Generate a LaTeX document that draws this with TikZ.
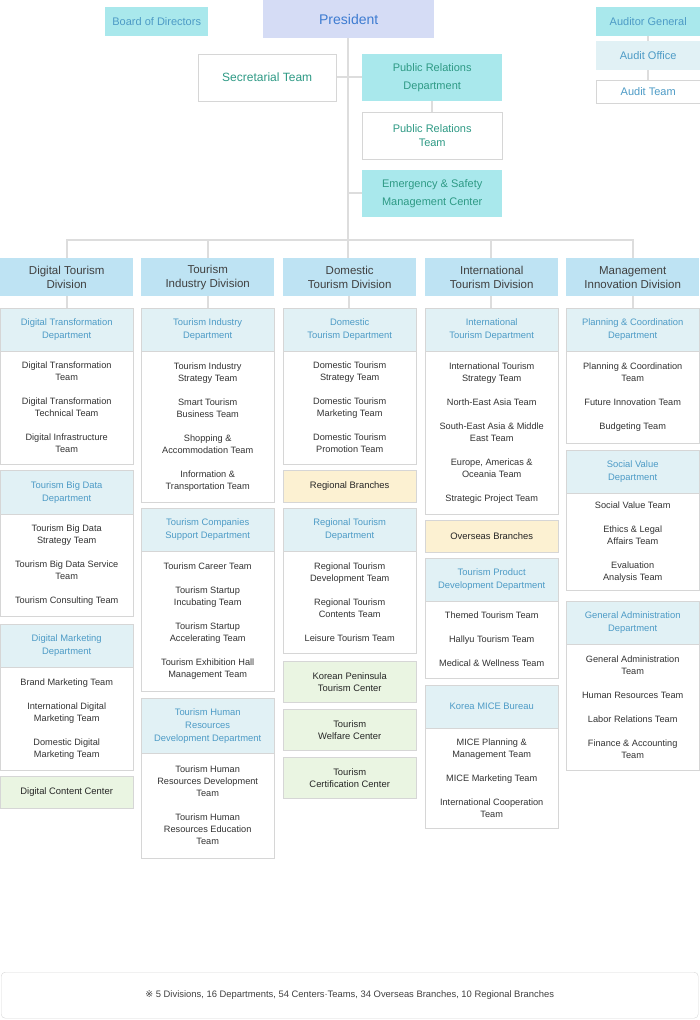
\documentclass[tikz,border=0pt]{standalone}
\usepackage{fontspec}
\setmainfont{Liberation Sans}
\newfontfamily\symfont{DejaVu Sans}
\usetikzlibrary{positioning}
\definecolor{linegray}{HTML}{DDDDDD}
\definecolor{boxgray}{HTML}{D6D6D6}
\definecolor{headfill}{HTML}{E1F1F5}
\definecolor{headtext}{HTML}{4D9BC6}
\definecolor{divfill}{HTML}{BEE3F3}
\definecolor{cyanfill}{HTML}{A9E8EC}
\definecolor{presfill}{HTML}{D5DCF5}
\definecolor{greenfill}{HTML}{EAF5E2}
\definecolor{yellowfill}{HTML}{FCF1D2}
\definecolor{tealtext}{HTML}{2E9A85}
\newcommand\deptbox[7]{%
  \node[head, minimum height={(#4-#3)*1pt}] (#1h) at (#2,-#3) {#6};
  \node[body, minimum height={(#5-#4)*1pt}] (#1b) at (#2,-#4) {#7};}
\begin{document}
\begin{tikzpicture}[x=1pt, y=1pt,
    base/.style={rectangle, anchor=north west, inner sep=0pt, align=center, text centered},
    head/.style={base, draw=boxgray, fill=headfill, minimum width=133pt, text=headtext, font=\fontsize{9.4}{13}\selectfont},
    body/.style={base, draw=boxgray, fill=white, minimum width=133pt, text=black!80, font=\fontsize{9.2}{12}\selectfont},
    division/.style={base, fill=divfill, minimum width=133pt, minimum height=38pt, text=black!75, font=\fontsize{11.5}{14}\selectfont},
    unit/.style={base, draw=boxgray, minimum width=133pt, minimum height=32pt, text=black!85, font=\fontsize{9.4}{12}\selectfont},
    staff/.style={base, minimum width=140pt, minimum height=47pt, text=tealtext, font=\fontsize{12}{18}\selectfont},
    link/.style={draw=linegray, line width=2pt}
]
\useasboundingbox (0,0) rectangle (700,-1020);
% connectors
\coordinate (bus) at (348,-240);
\draw[link] (348,-38) -- (bus);
\draw[link] (67,-258) |- (bus) -| (633,-258);
\foreach \cx in {208,348,491} \draw[link] (\cx,-240) -- (\cx,-258);
\foreach \cx in {67,208,349,491,633} \draw[link] (\cx,-296) -- (\cx,-308);
\draw[link] (336,-77) -- (362,-77);
\draw[link] (348,-193) -- (362,-193);
\draw[link] (432,-101) -- (432,-112);
\draw[link] (648,-36) -- (648,-80);
% top
\node[base, fill=presfill, minimum width=171pt, minimum height=38pt, text=headtext!80!blue, font=\fontsize{14}{16}\selectfont] (president) at (263,0) {President};
\node[base, fill=cyanfill, minimum width=103pt, minimum height=29pt, text=headtext, font=\fontsize{11}{13}\selectfont] (board) at (105,-7) {Board of Directors};
\node[base, fill=cyanfill, minimum width=104pt, minimum height=29pt, text=headtext, font=\fontsize{11}{13}\selectfont] (auditor) at (596,-7) {Auditor General};
\node[base, fill=headfill, minimum width=104pt, minimum height=29pt, text=headtext, font=\fontsize{11}{13}\selectfont] (auditoffice) at (596,-41) {Audit Office};
\node[base, draw=boxgray, fill=white, minimum width=104pt, minimum height=23pt, text=headtext, font=\fontsize{11}{13}\selectfont] (auditteam) at (596,-80) {Audit Team};
\node[staff, draw=boxgray, fill=white, minimum width=138pt] (secretary) at (198,-54) {Secretarial Team};
\node[staff, fill=cyanfill, font=\fontsize{11}{18}\selectfont] (prdept) at (362,-54) {Public Relations\\Department};
\node[staff, draw=boxgray, fill=white, font=\fontsize{11}{14}\selectfont] (prteam) at (362,-112) {Public Relations\\Team};
\node[staff, fill=cyanfill, font=\fontsize{11}{18}\selectfont] (emergency) at (362,-170) {Emergency \& Safety\\Management Center};
% divisions
\node[division] (digital) at (0,-258) {Digital Tourism\\Division};
\node[division] (industry) at (141,-258) {Tourism\\Industry Division};
\node[division] (domestic) at (283,-258) {Domestic\\Tourism Division};
\node[division] (international) at (425,-258) {International\\Tourism Division};
\node[division] (management) at (566,-258) {Management\\Innovation Division};
% Digital Tourism Division
\deptbox{dtd}{0}{308}{351}{464}{Digital Transformation\\Department}{Digital Transformation\\Team\\[12pt]Digital Transformation\\Technical Team\\[12pt]Digital Infrastructure\\Team}
\deptbox{bigdata}{0}{470}{514}{616}{Tourism Big Data\\Department}{Tourism Big Data\\Strategy Team\\[12pt]Tourism Big Data Service\\Team\\[12pt]Tourism Consulting Team}
\deptbox{dmarket}{0}{624}{667}{770}{Digital Marketing\\Department}{Brand Marketing Team\\[12pt]International Digital\\Marketing Team\\[12pt]Domestic Digital\\Marketing Team}
\node[unit, fill=greenfill] (content) at (0,-776) {Digital Content Center};
% Tourism Industry Division
\deptbox{tid}{141}{308}{351}{502}{Tourism Industry\\Department}{Tourism Industry\\Strategy Team\\[12pt]Smart Tourism\\Business Team\\[12pt]Shopping \&\\Accommodation Team\\[12pt]Information \&\\Transportation Team}
\deptbox{support}{141}{508}{551}{691}{Tourism Companies\\Support Department}{Tourism Career Team\\[12pt]Tourism Startup\\Incubating Team\\[12pt]Tourism Startup\\Accelerating Team\\[12pt]Tourism Exhibition Hall\\Management Team}
\deptbox{hrd}{141}{698}{753}{858}{Tourism Human\\Resources\\Development Department}{Tourism Human\\Resources Development\\Team\\[12pt]Tourism Human\\Resources Education\\Team}
% Domestic Tourism Division
\deptbox{dom}{283}{308}{351}{464}{Domestic\\Tourism Department}{Domestic Tourism\\Strategy Team\\[12pt]Domestic Tourism\\Marketing Team\\[12pt]Domestic Tourism\\Promotion Team}
\node[unit, fill=yellowfill] (regional) at (283,-470) {Regional Branches};
\deptbox{region}{283}{508}{551}{653}{Regional Tourism\\Department}{Regional Tourism\\Development Team\\[12pt]Regional Tourism\\Contents Team\\[12pt]Leisure Tourism Team}
\node[unit, fill=greenfill, minimum height=41pt] (peninsula) at (283,-661) {Korean Peninsula\\Tourism Center};
\node[unit, fill=greenfill, minimum height=41pt] (welfare) at (283,-709) {Tourism\\Welfare Center};
\node[unit, fill=greenfill, minimum height=41pt] (certify) at (283,-757) {Tourism\\Certification Center};
% International Tourism Division
\deptbox{intl}{425}{308}{351}{514}{International\\Tourism Department}{International Tourism\\Strategy Team\\[12pt]North-East Asia Team\\[12pt]South-East Asia \& Middle\\East Team\\[12pt]Europe, Americas \&\\Oceania Team\\[12pt]Strategic Project Team}
\node[unit, fill=yellowfill] (overseas) at (425,-520) {Overseas Branches};
\deptbox{product}{425}{558}{601}{678}{Tourism Product\\Development Department}{Themed Tourism Team\\[12pt]Hallyu Tourism Team\\[12pt]Medical \& Wellness Team}
\deptbox{mice}{425}{685}{728}{828}{Korea MICE Bureau}{MICE Planning \&\\Management Team\\[12pt]MICE Marketing Team\\[12pt]International Cooperation\\Team}
% Management Innovation Division
\deptbox{plan}{566}{308}{351}{443}{Planning \& Coordination\\Department}{Planning \& Coordination\\Team\\[12pt]Future Innovation Team\\[12pt]Budgeting Team}
\deptbox{social}{566}{450}{493}{590}{Social Value\\Department}{Social Value Team\\[12pt]Ethics \& Legal\\Affairs Team\\[12pt]Evaluation\\Analysis Team}
\deptbox{admin}{566}{601}{644}{770}{General Administration\\Department}{General Administration\\Team\\[12pt]Human Resources Team\\[12pt]Labor Relations Team\\[12pt]Finance \& Accounting\\Team}
% note
\node[base, draw=boxgray, rounded corners=4pt, minimum width=697pt, minimum height=46pt, text=black!75, font=\fontsize{9.4}{12}\selectfont] (note) at (1,-972) {{\symfont ※} 5 Divisions, 16 Departments, 54 Centers·Teams, 34 Overseas Branches, 10 Regional Branches};
\end{tikzpicture}
\end{document}
